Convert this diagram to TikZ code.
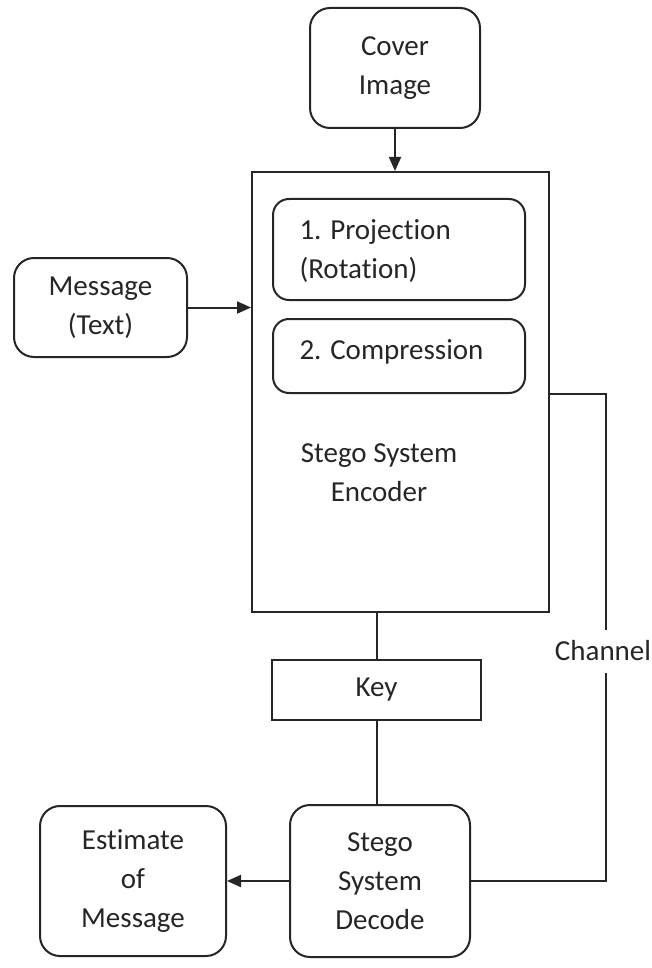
\documentclass[tikz,border=0pt]{standalone}
\usepackage{fontspec}
\setmainfont{Carlito}[Ligatures=NoCommon]
\usetikzlibrary{arrows.meta}
\begin{document}
\begin{tikzpicture}[x=1pt,y=-1pt,
  every node/.style={font=\fontsize{29}{39}\selectfont, text=black!85},
  ln/.style={line width=2pt, draw=black!85},
  rbox/.style={ln, draw, rounded corners=20pt, align=center, inner sep=0pt},
  sbox/.style={ln, draw, align=center, inner sep=0pt},
  arr/.style={ln, -{Triangle[length=14pt,width=12pt]}}]
\useasboundingbox (0,0) rectangle (651,968);
\fill[white] (0,0) rectangle (651,968);
% boxes
\node[rbox, minimum width=170pt, minimum height=120pt] (cover) at (395,68) {Cover\\Image};
\node[sbox, minimum width=297pt, minimum height=440pt] (enc) at (400.5,392) {};
\node[rbox, minimum width=252pt, minimum height=101pt, rounded corners=16pt] (p1) at (399,249.5) {};
\node[align=left, anchor=west] (p1t) at (296,251) {1. Projection\\(Rotation)};
\node[rbox, minimum width=252pt, minimum height=74pt, rounded corners=16pt] (p2) at (399,356) {};
\node[anchor=west] (p2t) at (296,352) {2. Compression};
\node[align=center] (enct) at (379,473) {Stego System\\Encoder};
\node[rbox, minimum width=173pt, minimum height=99pt] (msg) at (100.5,307.5) {Message\\(Text)};
\node[sbox, minimum width=209pt, minimum height=60pt] (key) at (376.5,690) {Key};
\node[rbox, minimum width=180pt, minimum height=152pt] (dec) at (380,881) {Stego\\System\\Decode};
\node[rbox, minimum width=186pt, minimum height=150pt] (est) at (133,881) {Estimate\\of\\Message};
\node (ch) at (603,651) {Channel};
\coordinate (c1) at (606,630);
\coordinate (c2) at (606,673);
% connectors
\draw[arr] (cover.south) -- (cover.south |- enc.north);
\draw[arr] (msg.east) -- (enc.west |- msg.east);
\draw[ln] (enc.east |- p2.south) -| (c1);
\draw[ln] (c2) |- (dec.east);
\draw[ln] (key.north) -- (key.north |- enc.south);
\draw[ln] (key.south) -- (key.south |- dec.north);
\draw[arr] (dec.west) -- (est.east);
\end{tikzpicture}
\end{document}
